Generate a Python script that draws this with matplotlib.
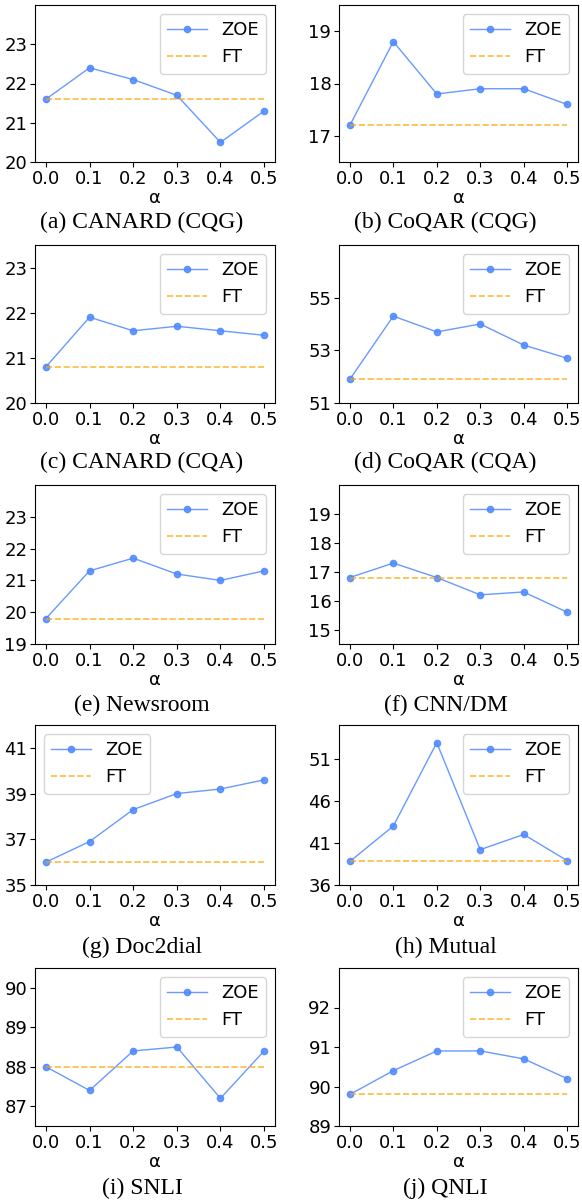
import matplotlib.pyplot as plt

alpha = [0.0, 0.1, 0.2, 0.3, 0.4, 0.5]

captions = ["(a) CANARD (CQG)", "(b) CoQAR (CQG)", "(c) CANARD (CQA)", "(d) CoQAR (CQA)",
            "(e) Newsroom", "(f) CNN/DM", "(g) Doc2dial", "(h) Mutual",
            "(i) SNLI", "(j) QNLI"]

zoe_a = [21.6, 22.4, 22.1, 21.7, 20.5, 21.3]
zoe_b = [17.2, 18.8, 17.8, 17.9, 17.9, 17.6]
zoe_c = [20.8, 21.9, 21.6, 21.7, 21.6, 21.5]
zoe_d = [51.9, 54.3, 53.7, 54.0, 53.2, 52.7]
zoe_e = [19.8, 21.3, 21.7, 21.2, 21.0, 21.3]
zoe_f = [16.8, 17.3, 16.8, 16.2, 16.3, 15.6]
zoe_g = [36.0, 36.9, 38.3, 39.0, 39.2, 39.6]
zoe_h = [38.8, 43.0, 52.9, 40.2, 42.0, 38.9]
zoe_i = [88.0, 87.4, 88.4, 88.5, 87.2, 88.4]
zoe_j = [89.8, 90.4, 90.9, 90.9, 90.7, 90.2]
zoe = [zoe_a, zoe_b, zoe_c, zoe_d, zoe_e, zoe_f, zoe_g, zoe_h, zoe_i, zoe_j]

ft = [21.6, 17.2, 20.8, 51.9, 19.8, 16.8, 36.0, 38.8, 88.0, 89.8]

ylims = [(20, 24), (16.5, 19.5), (20, 23.5), (51, 57), (19, 24),
         (14.5, 20), (35, 42), (36, 55), (86.5, 90.5), (89, 93)]
yticks = [[20, 21, 22, 23], [17, 18, 19], [20, 21, 22, 23], [51, 53, 55],
          [19, 20, 21, 22, 23], [15, 16, 17, 18, 19], [35, 37, 39, 41],
          [36, 41, 46, 51], [87, 88, 89, 90], [89, 90, 91, 92]]

W, H = 582, 1202
fig = plt.figure(figsize=(W / 100, H / 100), dpi=100)

col_x = [(35, 275), (339, 578)]
row_y = [(5, 162), (245, 403), (485, 644), (725, 885), (968, 1126)]
cap_y = [222, 462, 705, 947, 1188]

for k in range(10):
    r, c = k // 2, k % 2
    x0, x1 = col_x[c]
    y0, y1 = row_y[r]
    ax = fig.add_axes([x0 / W, 1 - y1 / H, (x1 - x0) / W, (y1 - y0) / H])
    ax.plot(alpha, zoe[k], '-o', color='#4d88ff', markersize=4.5, linewidth=1,
            alpha=0.85, label='ZOE')
    ax.plot(alpha, [ft[k]] * len(alpha), '--', color='orange', linewidth=1.2,
            alpha=0.75, label='FT')
    ax.set_ylim(*ylims[k])
    ax.set_yticks(yticks[k])
    ax.set_xticks(alpha)
    ax.set_xticklabels(['0.0', '0.1', '0.2', '0.3', '0.4', '0.5'])
    ax.tick_params(labelsize=13, length=3.5, pad=2)
    ax.set_xlabel('α', fontsize=13, labelpad=1)
    loc = 'upper left' if k == 6 else 'upper right'
    ax.legend(loc=loc, fontsize=13, handlelength=2.2)
    fig.text(((x0 + x1) / 2 - 13) / W, 1 - cap_y[r] / H, captions[k],
             family='Liberation Serif', fontsize=17, ha='center', va='center')

fig.savefig('out.png', dpi=100)
